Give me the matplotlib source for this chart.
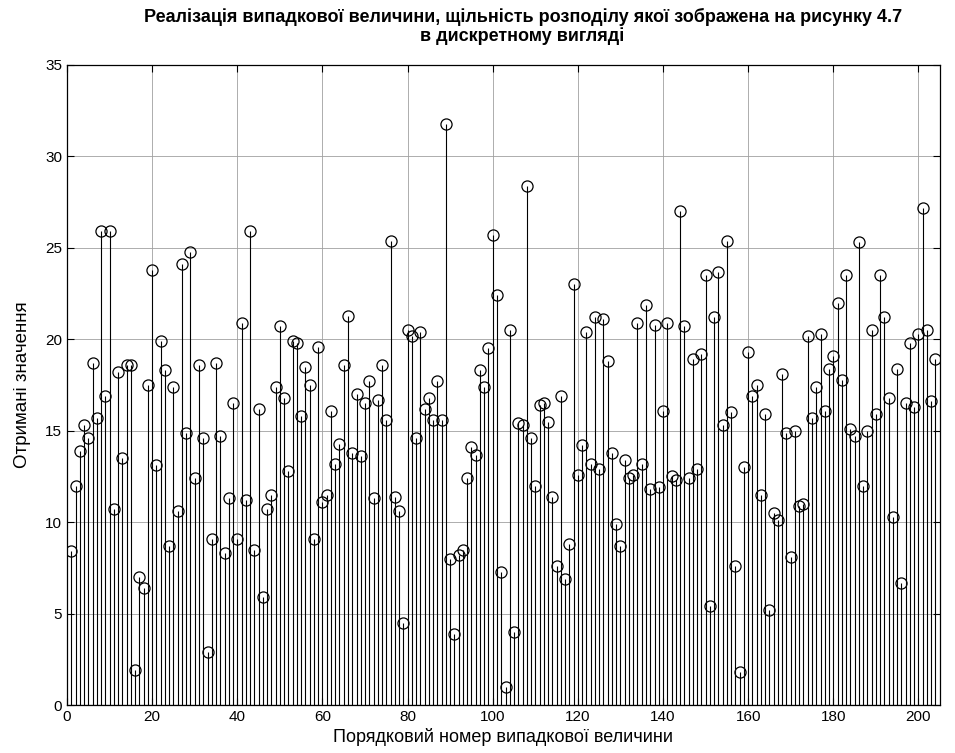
import numpy as np
import matplotlib
matplotlib.use('Agg')
import matplotlib.pyplot as plt

plt.rcParams['font.family'] = ['Liberation Sans Narrow', 'Liberation Sans', 'DejaVu Sans']

# отримані значення випадкової величини, номери 1..204
values = [
    8.4, 12.0, 13.9, 15.3, 14.6, 18.7, 15.7, 25.9, 16.9, 25.9,
    10.7, 18.2, 13.5, 18.6, 18.6, 1.9, 7.0, 6.4, 17.5, 23.8,
    13.1, 19.9, 18.3, 8.7, 17.4, 10.6, 24.1, 14.9, 24.8, 12.4,
    18.6, 14.6, 2.9, 9.1, 18.7, 14.7, 8.3, 11.3, 16.5, 9.1,
    20.9, 11.2, 25.9, 8.5, 16.2, 5.9, 10.7, 11.5, 17.4, 20.7,
    16.8, 12.8, 19.9, 19.8, 15.8, 18.5, 17.5, 9.1, 19.6, 11.1,
    11.5, 16.1, 13.2, 14.3, 18.6, 21.3, 13.8, 17.0, 13.6, 16.5,
    17.7, 11.3, 16.7, 18.6, 15.6, 25.4, 11.4, 10.6, 4.5, 20.5,
    20.2, 14.6, 20.4, 16.2, 16.8, 15.6, 17.7, 15.6, 31.8, 8.0,
    3.9, 8.2, 8.5, 12.4, 14.1, 13.7, 18.3, 17.4, 19.5, 25.7,
    22.4, 7.3, 1.0, 20.5, 4.0, 15.4, 15.3, 28.4, 14.6, 12.0,
    16.4, 16.5, 15.5, 11.4, 7.6, 16.9, 6.9, 8.8, 23.0, 12.6,
    14.2, 20.4, 13.2, 21.2, 12.9, 21.1, 18.8, 13.8, 9.9, 8.7,
    13.4, 12.4, 12.6, 20.9, 13.2, 21.9, 11.8, 20.8, 11.9, 16.1,
    20.9, 12.5, 12.3, 27.0, 20.7, 12.4, 18.9, 12.9, 19.2, 23.5,
    5.4, 21.2, 23.7, 15.3, 25.4, 16.0, 7.6, 1.8, 13.0, 19.3,
    16.9, 17.5, 11.5, 15.9, 5.2, 10.5, 10.1, 18.1, 14.9, 8.1,
    15.0, 10.9, 11.0, 20.2, 15.7, 17.4, 20.3, 16.1, 18.4, 19.1,
    22.0, 17.8, 23.5, 15.1, 14.7, 25.3, 12.0, 15.0, 20.5, 15.9,
    23.5, 21.2, 16.8, 10.3, 18.4, 6.7, 16.5, 19.8, 16.3, 20.3,
    27.2, 20.5, 16.6, 18.9,
]
n = np.arange(1, len(values) + 1)

fig = plt.figure(figsize=(9.55, 7.53), dpi=100)
ax = fig.add_axes([0.0702, 0.0637, 0.9138, 0.85])

markerline, stemlines, baseline = ax.stem(n, values, linefmt='k-', markerfmt='ko', basefmt='k-')
plt.setp(stemlines, linewidth=0.8)
plt.setp(markerline, markersize=8, markerfacecolor='none', markeredgewidth=0.9)
plt.setp(baseline, linewidth=0.8)

ax.set_xlim(0, 205)
ax.set_ylim(0, 35)
ax.set_xticks(np.arange(0, 201, 20))
ax.set_yticks(np.arange(0, 36, 5))
ax.grid(True, color='#a0a0a0', linewidth=0.6)
ax.set_axisbelow(True)
ax.tick_params(direction='in', top=True, right=True, length=5, labelsize=11, width=0.8)
for s in ax.spines.values():
    s.set_linewidth(0.9)

ax.set_title('Реалізація випадкової величини, щільність розподілу якої зображена на рисунку 4.7\n'
             'в дискретному вигляді', fontsize=13, fontweight='bold', pad=17, linespacing=1.15,
             x=0.522)
ax.set_xlabel('Порядковий номер випадкової величини', fontsize=13, labelpad=3)
ax.set_ylabel('Отримані значення', fontsize=13.5, labelpad=10)

fig.savefig('out.png', dpi=100)
